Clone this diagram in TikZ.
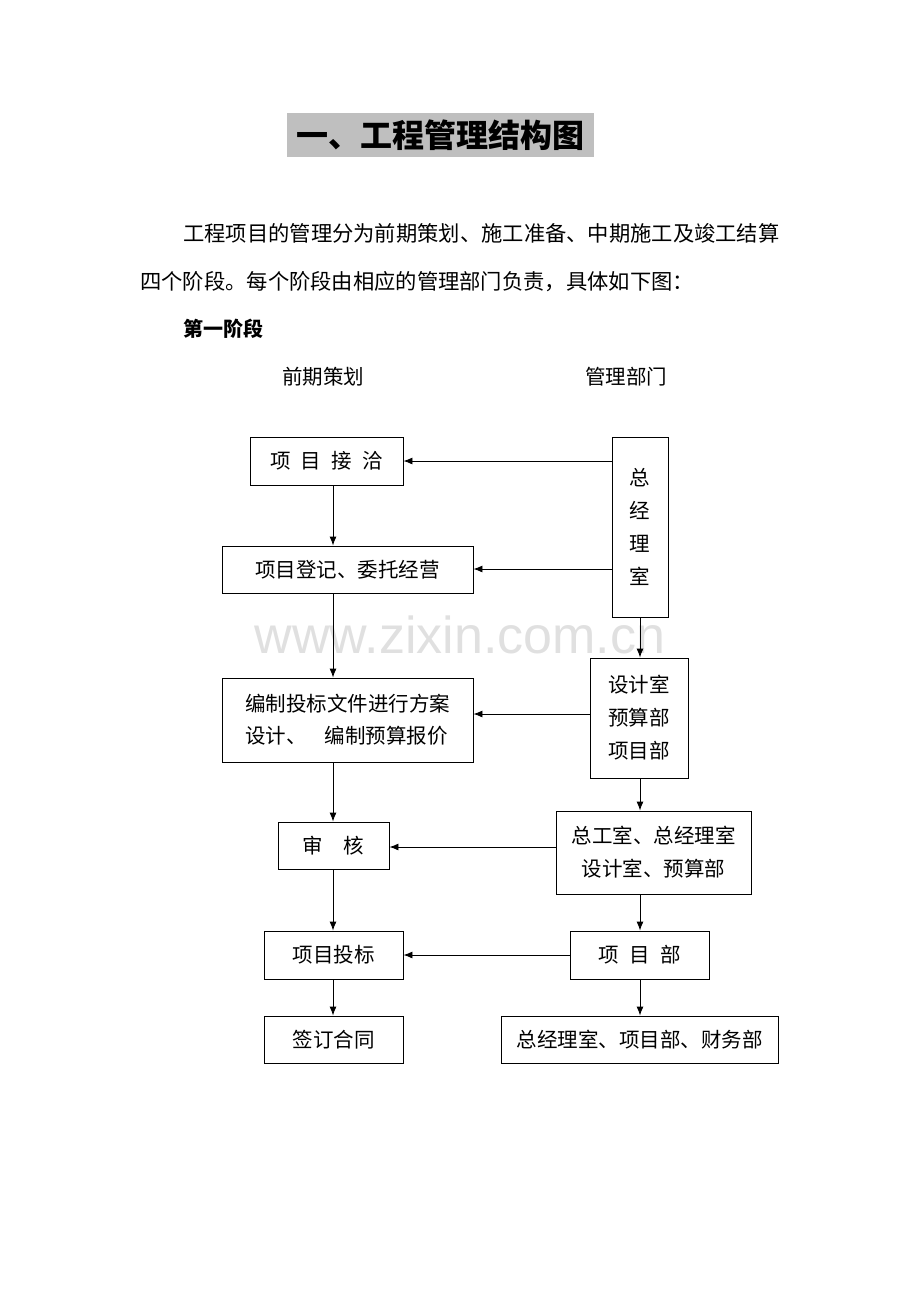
\documentclass[tikz,border=0pt]{standalone}
\usepackage{fontspec}
\setmainfont{Noto Sans CJK SC}
\newfontfamily\lat{Liberation Sans}
\usetikzlibrary{arrows.meta}
\begin{document}
\begin{tikzpicture}[x=1pt,y=-1pt,
 bx/.style={draw,line width=0.9pt,font=\fontsize{20.5}{25}\selectfont,align=center,inner sep=0pt},
 ar/.style={line width=0.9pt,-{Latex[length=9pt,width=7pt]}},
 tx/.style={font=\fontsize{21.3}{25}\selectfont,anchor=west,inner sep=0pt}]
\useasboundingbox (0,0) rectangle (920,1302);
\node[fill=black!25,minimum width=307pt,minimum height=44pt,font=\fontsize{32}{36}\selectfont\bfseries] (title) at (440.5,135) {一、工程管理结构图};
\node[tx] (p1) at (183,233) {工程项目的管理分为前期策划、施工准备、中期施工及竣工结算};
\node[tx] (p2) at (140,282) {四个阶段。每个阶段由相应的管理部门负责，具体如下图：};
\node[tx,font=\fontsize{20}{25}\selectfont\bfseries\itshape] (st) at (183,329) {第一阶段};
\node[font=\fontsize{20.5}{25}\selectfont] (h1) at (323,377) {前期策划};
\node[font=\fontsize{20.5}{25}\selectfont] (h2) at (626,377) {管理部门};
\node[text=black!12,font=\lat\fontsize{52}{52}\selectfont] (wm) at (460,635) {www.zixin.com.cn};
% left
\node[bx,minimum width=153pt,minimum height=48pt] (a1) at (326.5,461) {项\hspace{0.5em}目\hspace{0.5em}接\hspace{0.5em}洽};
\node[bx,minimum width=251pt,minimum height=47pt] (a2) at (347.5,569.5) {项目登记、委托经营};
\node[bx,minimum width=251pt,minimum height=84pt,align=left,font=\fontsize{20.5}{32}\selectfont] (a3) at (347.5,720) {编制投标文件进行方案\\设计、\ \ \ \ 编制预算报价};
\node[bx,minimum width=111pt,minimum height=47pt] (a4) at (333.5,845.5) {审\quad 核};
\node[bx,minimum width=139pt,minimum height=48pt] (a5) at (333.5,955) {项目投标};
\node[bx,minimum width=139pt,minimum height=47pt] (a6) at (333.5,1039.5) {签订合同};
% right
\node[bx,minimum width=56pt,minimum height=180pt,font=\fontsize{20.5}{33}\selectfont] (b1) at (640,527) {总\\经\\理\\室};
\node[bx,minimum width=98pt,minimum height=120pt,font=\fontsize{20.5}{33}\selectfont] (b2) at (639,718) {设计室\\预算部\\项目部};
\node[bx,minimum width=195pt,minimum height=83pt,font=\fontsize{20.5}{33}\selectfont] (b3) at (653.5,852.5) {总工室、总经理室\\设计室、预算部};
\node[bx,minimum width=139pt,minimum height=48pt] (b4) at (639.5,955) {项\hspace{0.5em}目\hspace{0.5em}部};
\node[bx,minimum width=277pt,minimum height=47pt] (b5) at (639.5,1039.5) {总经理室、项目部、财务部};
% vertical arrows
\draw[ar] (a1.south -| 333,0) -- (a2.north -| 333,0);
\draw[ar] (a2.south -| 333,0) -- (a3.north -| 333,0);
\draw[ar] (a3.south -| 333,0) -- (a4.north -| 333,0);
\draw[ar] (a4.south -| 333,0) -- (a5.north -| 333,0);
\draw[ar] (a5.south -| 333,0) -- (a6.north -| 333,0);
\draw[ar] (b1.south) -- (b2.north -| b1.south);
\draw[ar] (b2.south -| 640,0) -- (b3.north -| 640,0);
\draw[ar] (b3.south -| 640,0) -- (b4.north -| 640,0);
\draw[ar] (b4.south -| 640,0) -- (b5.north -| 640,0);
% horizontal arrows
\draw[ar] (b1.west |- 0,461) -- (a1.east);
\draw[ar] (b1.west |- 0,569) -- (a2.east |- 0,569);
\draw[ar] (b2.west |- 0,714) -- (a3.east |- 0,714);
\draw[ar] (b3.west |- 0,847) -- (a4.east |- 0,847);
\draw[ar] (b4.west) -- (a5.east);
\end{tikzpicture}
\end{document}
